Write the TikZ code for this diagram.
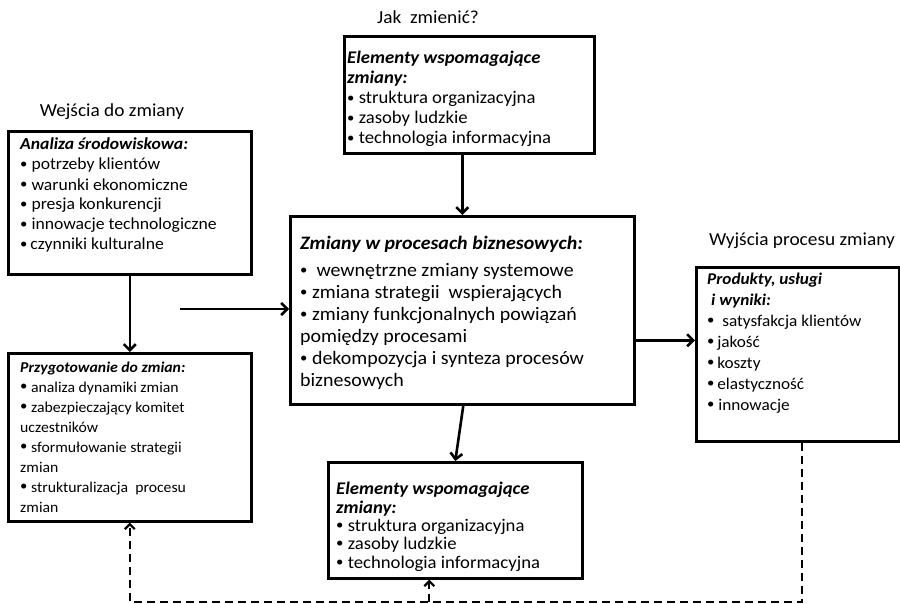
\documentclass[tikz,border=0pt]{standalone}
\usepackage{fontspec}
\setmainfont{Carlito}[FakeStretch=1.05]
\usetikzlibrary{positioning, arrows.meta, calc}

\newcommand{\hd}[1]{\textbf{\textit{#1}}}
\newcommand{\bt}{\raisebox{0.1em}{\fontsize{14}{14}\selectfont\textbullet}}
\newcommand{\lines}[1]{\begin{tabular}[b]{@{}l@{}}#1\end{tabular}}

\begin{document}
\begin{tikzpicture}[x=1pt, y=-1pt,
  frame/.style={draw, line width=2.6pt, anchor=north west, inner sep=0pt},
  txt/.style={anchor=base west, inner sep=0pt},
  lbl/.style={inner sep=0pt, font=\fontsize{18.4}{20}\selectfont},
  arr/.style={line width=2.6pt, -{Straight Barb[length=6pt, width=12pt]}},
  fb/.style={line width=2.2pt, dash pattern=on 8pt off 5pt, -{Straight Barb[length=5pt, width=10pt]}}]
\useasboundingbox (0,0) rectangle (900,604);

% headings
\node[lbl] (howLabel) at (428,17) {Jak\ \ zmienić?};
\node[lbl] (inLabel) at (112,112) {Wejścia do zmiany};
\node[lbl] (outLabel) at (802,241) {Wyjścia procesu zmiany};

% frames
\node[frame, minimum width=250pt, minimum height=117pt] (topBox) at (343,35) {};
\node[frame, minimum width=243pt, minimum height=143pt] (anaBox) at (7,130) {};
\node[frame, minimum width=243pt, minimum height=168pt] (prepBox) at (7,352) {};
\node[frame, minimum width=344pt, minimum height=188pt] (procBox) at (289,215) {};
\node[frame, minimum width=203pt, minimum height=174pt] (outBox) at (695,266) {};
\node[frame, minimum width=254pt, minimum height=116pt] (botBox) at (327,461) {};

% texts (placed by the baseline of their last line)
\node[txt, font=\fontsize{17.8}{20}\selectfont] (topText) at (347,144)
  {\lines{\hd{Elementy wspomagające}\\ \hd{zmiany:}\\
   \bt\ struktura organizacyjna\\ \bt\ zasoby ludzkie\\
   \bt\ technologia informacyjna}};
\node[txt, font=\fontsize{16.8}{20}\selectfont] (anaText) at (20,250)
  {\lines{\hd{Analiza środowiskowa:}\\ \bt\ potrzeby klientów\\
   \bt\ warunki ekonomiczne\\ \bt\ presja konkurencji\\
   \bt\ innowacje technologiczne\\ \bt\,czynniki kulturalne}};
\node[txt, font=\fontsize{15}{20}\selectfont] (prepText) at (20,512)
  {\lines{\hd{Przygotowanie do zmian:}\\ \bt\ analiza dynamiki zmian\\
   \bt\ zabezpieczający komitet\\ uczestników\\
   \bt\ sformułowanie strategii\\ zmian\\
   \bt\ strukturalizacja\ \ procesu\\ zmian}};
\node[txt, font=\fontsize{19}{22}\selectfont] (procText) at (300,386)
  {\lines{\hd{Zmiany w procesach biznesowych:}\\[5pt]
   \bt\ \ wewnętrzne zmiany systemowe\\
   \bt\ zmiana strategii\ \ wspierających\\
   \bt\ zmiany funkcjonalnych powiązań\\ pomiędzy procesami\\
   \bt\ dekompozycja i synteza procesów\\ biznesowych}};
\node[txt, font=\fontsize{16.4}{21}\selectfont] (outText) at (707,410)
  {\lines{\hd{Produkty, usługi}\\ \hspace*{4pt}\hd{i wyniki:}\\
   \bt\ \ satysfakcja klientów\\ \bt\,jakość\\
   \bt\,koszty\\ \bt\,elastyczność\\ \bt\ innowacje}};
\node[txt, font=\fontsize{17.8}{18.3}\selectfont] (botText) at (336,568)
  {\lines{\hd{Elementy wspomagające}\\ \hd{zmiany:}\\
   \bt\ struktura organizacyjna\\ \bt\ zasoby ludzkie\\
   \bt\ technologia informacyjna}};

% connectors
\coordinate (inStart) at (180,309);
\coordinate (fbBase) at (0,602);
\draw[arr] (anaBox) -- (prepBox);
\draw[arr] (inStart) -- (inStart -| procBox.west);
\draw[arr] (topBox.south -| procBox.north) -- (procBox.north);
\draw[arr] ([yshift=-30pt]procBox.east) -- ([yshift=-30pt]procBox.east -| outBox.west);
\draw[arr] ([xshift=1pt]procBox.south) -- (botBox.north);

% feedback
\draw[fb] ([xshift=4pt]outBox.south) |- (prepBox.south |- fbBase) -- (prepBox.south);
\draw[fb] ([xshift=-26pt]botBox.south |- fbBase) -- ([xshift=-26pt]botBox.south);
\end{tikzpicture}
\end{document}
